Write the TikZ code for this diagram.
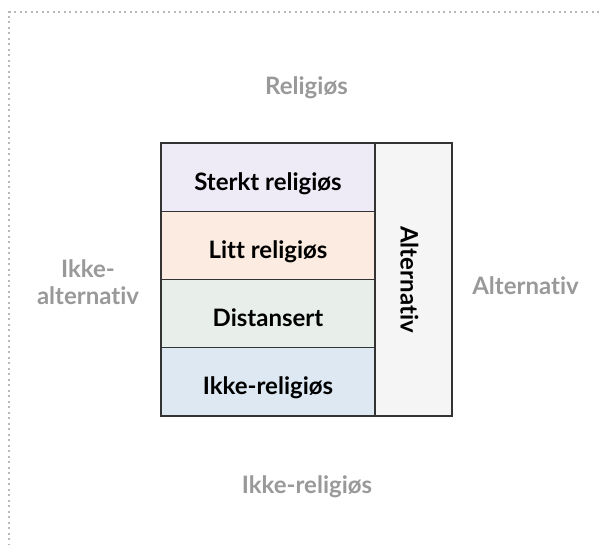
\documentclass[tikz,border=0pt]{standalone}
\usepackage{fontspec}
\setmainfont[Ligatures={NoCommon}]{Lato}
\definecolor{lav}{HTML}{EEEAF6}
\definecolor{peach}{HTML}{FBEBE0}
\definecolor{sage}{HTML}{E8EEEA}
\definecolor{skyb}{HTML}{DDE8F3}
\definecolor{colg}{HTML}{F5F5F5}
\definecolor{edge}{HTML}{333333}
\definecolor{lab}{HTML}{999999}
\definecolor{dots}{HTML}{B8B8B8}
\tikzset{
  cell/.style={draw=edge, line width=1.2pt, minimum width=214pt, minimum height=68.25pt, inner sep=0pt, text height=26pt, text depth=0pt, font=\bfseries\fontsize{24}{27}\selectfont, text=black},
  axislab/.style={text=lab, font=\bfseries\fontsize{24}{27.3}\selectfont, align=center, inner sep=0pt, anchor=base},
}
\begin{document}
\begin{tikzpicture}[x=1pt,y=-1pt]
\useasboundingbox (0,0) rectangle (600,545);
\coordinate (tr) at (610,12);
\coordinate (tl) at (9,12);
\coordinate (bl) at (9,555);
\draw[dots, line width=1.6pt, dash pattern=on 1.6pt off 3.9pt] (tr) -- (tl) -- (bl);
\node[cell, fill=lav] (s1) at (268,177.1) {Sterkt religiøs};
\node[cell, fill=peach] (s2) at (268,245.4) {Litt religiøs};
\node[cell, fill=sage] (s3) at (268,313.6) {Distansert};
\node[cell, fill=skyb] (s4) at (268,381.9) {Ikke-religiøs};
\node[cell, fill=colg, minimum width=77pt, minimum height=273pt] (alt) at (413.5,279.5) {};
\node[rotate=-90, inner sep=0pt, text height=26pt, text depth=0pt, font=\bfseries\fontsize{24}{27}\selectfont] (altt) at (alt.center) {Alternativ};
\node[axislab] (top) at (306.5,95) {Religiøs};
\node[axislab] (bot) at (307,493) {Ikke-religiøs};
\node[axislab] (left) at (88,305) {Ikke-\\alternativ};
\node[axislab] (right) at (525.5,294.3) {Alternativ};
\end{tikzpicture}
\end{document}
